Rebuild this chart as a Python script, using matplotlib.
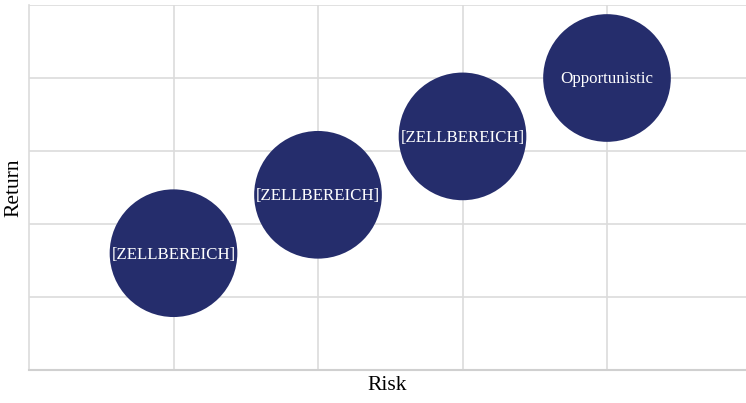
import matplotlib
matplotlib.use("Agg")
import matplotlib.pyplot as plt

labels = ["[ZELLBEREICH]", "[ZELLBEREICH]", "[ZELLBEREICH]", "Opportunistic"]
risk = [1, 2, 3, 4]
ret = [1.6, 2.4, 3.2, 4.0]
sizes = [1, 1, 1, 1]

plt.rcParams['font.family'] = ['Liberation Serif', 'DejaVu Serif']

W, H = 746, 403
fig = plt.figure(figsize=(W / 100, H / 100), dpi=100)
ax = fig.add_axes([29 / W, (H - 370) / H, (W - 29) / W, 365 / H])

color = "#252D6C"
ax.scatter(risk, ret, s=[v * 8450 for v in sizes], color=color, zorder=3, linewidths=0)
for x, y, t in zip(risk, ret, labels):
    ax.text(x, y - 0.02, t, color="white", ha="center", va="center", fontsize=12.2, zorder=4)

ax.set_xlim(0, 717 / 144.5)
ax.set_ylim(0, 5)
ax.set_xticks([1, 2, 3, 4])
ax.set_yticks([1, 2, 3, 4, 5])
ax.tick_params(length=0, labelleft=False, labelbottom=False)
ax.grid(True, color="#dcdcdc", linewidth=1.2, zorder=0)
ax.set_axisbelow(True)
for s in ["top", "right"]:
    ax.spines[s].set_visible(False)
ax.spines["left"].set_color("#dcdcdc")
ax.spines["bottom"].set_color("#d0d0d0")
ax.spines["left"].set_linewidth(1.2)
ax.spines["bottom"].set_linewidth(1.5)

ax.set_xlabel("Risk", fontsize=15.5, labelpad=4)
ax.set_ylabel("Return", fontsize=15.5, labelpad=4)

fig.savefig("out.png", dpi=100)
